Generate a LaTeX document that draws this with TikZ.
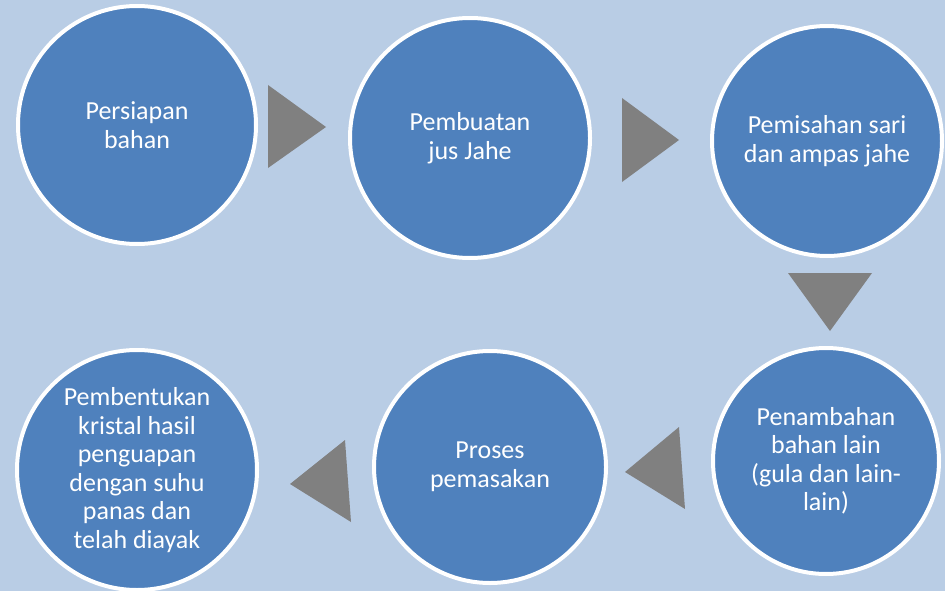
\documentclass[tikz,border=0pt]{standalone}
\usepackage{fontspec}
\setmainfont{Carlito}
\definecolor{bgblue}{HTML}{B9CDE5}
\definecolor{stepblue}{HTML}{4F81BD}
\definecolor{arrowgray}{HTML}{808080}
\begin{document}
\begin{tikzpicture}[x=1pt,y=-1pt,
 proses/.style={circle,draw=white,line width=4pt,fill=stepblue,text=white,inner sep=0pt,align=center,font=\fontsize{26}{28.5}\selectfont},
 panah/.style={fill=arrowgray}]
 \useasboundingbox[fill=bgblue](0,0) rectangle (945,591);
 \node[proses,minimum size=238pt](persiapan) at (137,125) {Persiapan\\bahan};
 \node[proses,minimum size=240pt](pembuatan) at (470,138) {Pembuatan\\jus Jahe};
 \node[proses,minimum size=230pt](pemisahan) at (827,141) {Pemisahan sari\\dan ampas jahe};
 \node[proses,minimum size=226pt](penambahan) at (826,461) {Penambahan\\bahan lain\\(gula dan lain-\\lain)};
 \node[proses,minimum size=232pt](pemasakan) at (490,467) {Proses\\pemasakan};
 \node[proses,minimum size=240pt](pembentukan) at (137,470) {Pembentukan\\kristal hasil\\penguapan\\dengan suhu\\panas dan\\telah diayak};
 \fill[panah](268,85)--(326,127)--(268,168)--cycle;
 \fill[panah](622,98)--(679,140)--(622,182)--cycle;
 \fill[panah](788,273)--(872,273)--(830,331)--cycle;
 \fill[panah](679,427)--(625,472)--(685,509)--cycle;
 \fill[panah](345,440)--(290,484)--(351,522)--cycle;
\end{tikzpicture}
\end{document}
